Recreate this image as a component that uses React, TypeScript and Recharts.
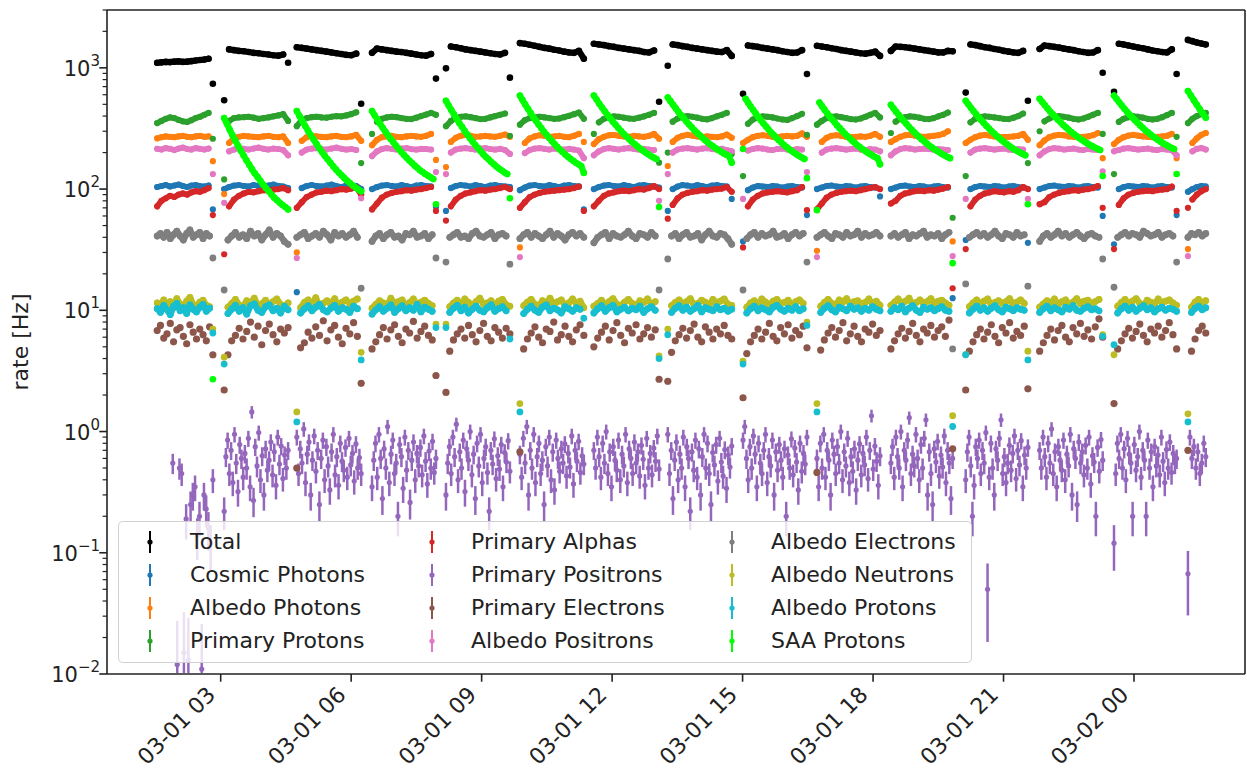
import { ErrorBar, Legend, ReferenceLine, Scatter, ScatterChart, XAxis, YAxis } from "recharts";

const FONT = '"DejaVu Sans", sans-serif';
const INK = "#222222";

// orbit segments, hours since 03-01 00:00
const SEG_START = [1.54, 3.08, 4.75, 6.48, 8.18, 9.88, 11.58, 13.28, 15.01, 16.71, 18.41, 20.13, 21.83, 23.54, 25.24];
const SEG_END = [2.82, 4.55, 6.23, 7.95, 9.65, 11.35, 13.08, 14.75, 16.48, 18.16, 19.83, 21.56, 23.28, 24.98, 25.65];

const X_MIN = 0.386;
const X_MAX = 26.552;
const Y_MIN = 0.01;
const Y_MAX = 3000;

const X_TICKS = [3, 6, 9, 12, 15, 18, 21, 24];
const X_TICK_LABELS = ["03-01 03", "03-01 06", "03-01 09", "03-01 12", "03-01 15", "03-01 18", "03-01 21", "03-02 00"];
const Y_MAJOR = [0.01, 0.1, 1, 10, 100, 1000];
const Y_MAJOR_EXP = ["\u22122", "\u22121", "0", "1", "2", "3"];

// counting time per bin, used for the positron error bars
const POSITRON_EXPOSURE_S = 50;

type Seg = (number | null)[];

const TOTAL: Seg[] = [
  [1100, 1110, 1120, 1115, 1125, 1130, 1120, 1125, 1135, 1150, 1160, 1170, 1190, 740],
  [540, 1420, 1400, 1380, 1370, 1350, 1330, 1320, 1300, 1290, 1270, 1260, 1290, 1100],
  [1480, 1460, 1440, 1420, 1400, 1380, 1360, 1340, 1320, 1300, 1280, 1270, 1310, 505],
  [1330, 1440, 1420, 1400, 1380, 1360, 1350, 1330, 1310, 1290, 1270, 1260, 1300, 815],
  [990, 1500, 1480, 1450, 1420, 1400, 1380, 1360, 1340, 1320, 1300, 1290, 1330, 830],
  [1600, 1580, 1550, 1520, 1490, 1460, 1440, 1410, 1390, 1360, 1340, 1330, 1380, 1190],
  [1580, 1560, 1540, 1510, 1490, 1460, 1440, 1420, 1400, 1380, 1350, 1340, 1390, 525],
  [1040, 1560, 1540, 1510, 1490, 1460, 1440, 1420, 1400, 1380, 1360, 1350, 1400, 1255],
  [610, 1530, 1510, 1490, 1460, 1440, 1420, 1400, 1370, 1350, 1330, 1340, 1400, 890],
  [1520, 1500, 1480, 1450, 1430, 1400, 1380, 1360, 1340, 1320, 1310, 1330, 1360, 1255],
  [1380, 1500, 1490, 1480, 1460, 1440, 1420, 1400, 1380, 1360, 1340, 1340, 1380, 1370],
  [625, 1560, 1540, 1510, 1480, 1460, 1430, 1410, 1380, 1360, 1340, 1330, 1380, 535],
  [1430, 1530, 1510, 1490, 1470, 1440, 1420, 1400, 1370, 1350, 1330, 1340, 1400, 910],
  [635, 1580, 1560, 1530, 1500, 1470, 1450, 1420, 1390, 1370, 1350, 1340, 1420, 890],
  [1700, 1660, 1620, 1590, 1560],
];

const COSMIC_PHOTONS: Seg[] = [
  [104, 106, 108, 105, 107, 109, 106, 104, 107, 108, 106, 105, 107, 68],
  [100, 104, 107, 108, 106, 105, 108, 106, 104, 107, 109, 106, 105, 102],
  [14.1, 102, 106, 108, 106, 105, 107, 109, 106, 104, 107, 108, 106, 100],
  [100, 104, 107, 108, 106, 105, 108, 106, 104, 107, 108, 106, 105, 71],
  [66, 102, 106, 108, 107, 105, 108, 106, 104, 107, 108, 106, 105, 104],
  [98, 103, 107, 108, 106, 105, 108, 106, 104, 107, 108, 106, 105, 68],
  [100, 104, 107, 108, 106, 105, 108, 106, 104, 107, 108, 106, 105, 103],
  [66, 100, 105, 108, 107, 105, 108, 106, 104, 107, 108, 106, 105, 83],
  [37, 98, 103, 106, 105, 104, 106, 105, 103, 105, 106, 104, 103, 61],
  [100, 103, 106, 107, 105, 104, 106, 105, 103, 105, 106, 104, 103, 87],
  [100, 103, 106, 107, 105, 104, 106, 105, 103, 105, 106, 104, 103, 12.6],
  [38, 100, 104, 106, 105, 104, 106, 105, 103, 105, 106, 104, 103, 36],
  [100, 103, 106, 107, 105, 104, 106, 105, 103, 105, 106, 104, 103, 60],
  [35, 100, 104, 106, 105, 104, 106, 105, 103, 105, 106, 104, 103, 61],
  [95, 100, 104, 106, 105],
];

const ALBEDO_PHOTONS: Seg[] = [
  [262, 268, 272, 270, 268, 272, 275, 270, 268, 272, 275, 270, 272, 170],
  [91, 240, 262, 270, 275, 272, 270, 268, 272, 275, 270, 268, 272, 240],
  [30, 250, 268, 275, 272, 270, 268, 272, 275, 270, 268, 272, 280, 250],
  [230, 255, 268, 272, 275, 270, 268, 272, 275, 272, 270, 275, 285, 174],
  [152, 245, 265, 275, 280, 275, 270, 272, 275, 272, 270, 275, 282, 270],
  [33, 240, 262, 272, 278, 275, 270, 272, 275, 270, 268, 275, 285, 245],
  [235, 258, 270, 278, 280, 275, 272, 270, 275, 272, 270, 275, 285, 260],
  [155, 245, 265, 275, 280, 276, 272, 270, 272, 270, 268, 272, 282, 265],
  [240, 255, 268, 275, 278, 275, 270, 268, 272, 275, 272, 275, 288, 270],
  [31, 245, 265, 275, 278, 275, 270, 268, 270, 272, 270, 275, 285, 270],
  [245, 258, 270, 278, 280, 276, 272, 270, 272, 275, 278, 285, 300, 37],
  [240, 255, 268, 276, 280, 276, 272, 270, 268, 270, 272, 275, 285, 255],
  [230, 252, 268, 276, 280, 278, 272, 270, 268, 270, 272, 278, 290, 180],
  [235, 255, 268, 276, 280, 276, 272, 270, 268, 270, 272, 275, 285, 180],
  [32, 240, 262, 280, 290],
];

const PRIMARY_PROTONS: Seg[] = [
  [350, 365, 380, 390, 385, 372, 362, 358, 370, 385, 395, 410, 425, 260],
  [120, 365, 385, 390, 392, 395, 388, 380, 385, 390, 398, 405, 415, 365],
  [330, 370, 385, 392, 395, 390, 388, 395, 400, 398, 405, 415, 430, 164],
  [285, 360, 380, 390, 395, 392, 385, 380, 378, 388, 400, 412, 425, 410],
  [330, 365, 385, 395, 398, 392, 385, 378, 380, 390, 400, 410, 420, 275],
  [340, 370, 385, 392, 395, 390, 385, 380, 382, 392, 402, 415, 428, 380],
  [285, 355, 380, 392, 398, 395, 388, 382, 380, 388, 398, 410, 425, 165],
  [200, 360, 382, 395, 400, 395, 388, 380, 376, 385, 398, 410, 425, 195],
  [128, 345, 375, 390, 398, 395, 390, 382, 375, 372, 385, 400, 418, 280],
  [340, 365, 385, 395, 398, 392, 385, 378, 375, 382, 395, 410, 425, 390],
  [290, 360, 382, 392, 398, 395, 388, 380, 378, 385, 398, 410, 428, 58],
  [128, 355, 380, 392, 398, 395, 390, 385, 380, 378, 388, 400, 420, 164],
  [300, 362, 382, 395, 400, 395, 388, 380, 375, 382, 395, 410, 425, 285],
  [133, 358, 380, 392, 398, 395, 388, 380, 375, 380, 392, 408, 425, 270],
  [350, 380, 400, 415, 425],
];

const PRIMARY_ALPHAS: Seg[] = [
  [72, 80, 84, 88, 86, 90, 92, 90, 94, 96, 95, 98, 102, 61],
  [29, 72, 82, 88, 92, 95, 94, 96, 98, 97, 99, 100, 102, 98],
  [70, 78, 86, 90, 94, 95, 97, 96, 98, 100, 99, 101, 104, 90],
  [68, 76, 85, 90, 93, 95, 96, 98, 97, 99, 100, 102, 104, 66],
  [55, 72, 82, 88, 92, 94, 96, 98, 97, 99, 100, 102, 104, 100],
  [70, 78, 86, 90, 93, 95, 96, 97, 98, 99, 100, 102, 105, 66],
  [72, 80, 88, 92, 94, 96, 97, 96, 98, 100, 99, 102, 106, 100],
  [57, 74, 84, 90, 93, 95, 96, 98, 97, 99, 100, 101, 104, 95],
  [33, 72, 82, 88, 92, 94, 95, 96, 95, 94, 96, 98, 104, 67],
  [68, 76, 85, 90, 93, 95, 96, 97, 96, 98, 100, 102, 104, 100],
  [76, 80, 88, 92, 94, 96, 97, 96, 98, 97, 99, 101, 104, 15.2],
  [32, 72, 82, 88, 92, 94, 96, 95, 94, 96, 95, 98, 104, 100],
  [75, 78, 86, 90, 93, 95, 96, 98, 97, 99, 100, 102, 106, 70],
  [32, 74, 84, 90, 93, 95, 96, 97, 96, 98, 99, 100, 105, 66],
  [70, 82, 90, 96, 100],
];

const PRIMARY_POSITRONS: Seg[] = [
  [null, null, null, null, null, null, null, 0.55, null, 0.012, 0.5, 0.45, 0.015, 0.19, 0.013, 0.25, 0.3, 0.35, 0.14, 0.2, 0.011, 0.3, 0.23, 0.16, 0.12, 0.4],
  [0.22, 0.62, 0.85, 0.45, 0.7, 0.38, 0.95, 0.55, 0.32, 0.78, 0.6, 0.42, 0.66, 0.5, 0.88, 0.35, 1.45, 0.27, 0.75, 0.52, 0.98, 0.4, 0.63, 0.3, 0.72, 0.48, 0.58, 0.82, 0.44, 0.68, 0.36, 0.9, 0.54, 0.76, 0.41, 0.64, 0.5, 0.7],
  [0.9, 0.45, 0.72, 0.55, 1.05, 0.38, 0.65, 0.82, 0.3, 0.58, 0.92, 0.47, 0.7, 0.25, 0.6, 0.85, 0.4, 0.75, 0.52, 0.33, 0.68, 0.95, 0.44, 0.62, 0.36, 0.8, 0.57, 0.48, 0.74, 0.42, 0.88, 0.53, 0.66, 0.39, 0.79, 0.5, 0.61, 0.45],
  [0.35, 0.58, 0.8, 0.42, 0.95, 0.6, 0.28, 0.72, 0.5, 1.1, 0.38, 0.65, 0.85, 0.45, 0.55, 0.2, 0.78, 0.62, 0.34, 0.9, 0.48, 0.7, 0.26, 0.58, 0.82, 0.4, 0.66, 0.52, 0.74, 0.44, 0.92, 0.57, 0.37, 0.69, 0.5, 0.83, 0.46, 0.6],
  [0.3, 0.55, 0.75, 0.45, 0.9, 0.62, 1.15, 0.4, 0.68, 0.5, 0.85, 0.32, 0.72, 0.58, 1.0, 0.44, 0.65, 0.28, 0.8, 0.52, 0.95, 0.38, 0.6, 0.75, 0.46, 0.22, 0.7, 0.54, 0.87, 0.41, 0.63, 0.49, 0.78, 0.35, 0.67, 0.56, 0.84, 0.47],
  [0.65, 0.42, 0.88, 0.55, 1.1, 0.3, 0.7, 0.5, 0.95, 0.38, 0.62, 0.8, 0.45, 0.58, 0.25, 0.75, 0.52, 0.9, 0.4, 0.68, 0.33, 0.85, 0.6, 0.47, 0.72, 0.55, 0.79, 0.43, 0.66, 0.51, 0.92, 0.37, 0.7, 0.57, 0.83, 0.46, 0.63, 0.54],
  [0.7, 0.5, 0.9, 0.62, 0.42, 0.8, 0.55, 1.0, 0.45, 0.68, 0.35, 0.75, 0.58, 0.48, 0.85, 0.4, 0.65, 0.52, 0.95, 0.38, 0.72, 0.6, 0.45, 0.82, 0.55, 0.68, 0.43, 0.77, 0.59, 0.36, 0.88, 0.5, 0.66, 0.44, 0.73, 0.57, 0.92, 0.49],
  [0.95, 0.45, 0.7, 0.28, 0.58, 0.82, 0.4, 0.65, 0.5, 0.9, 0.35, 0.75, 0.6, 0.22, 0.68, 0.48, 0.85, 0.42, 0.72, 0.3, 0.62, 0.95, 0.5, 0.8, 0.45, 0.25, 0.67, 0.53, 0.78, 0.39, 0.88, 0.56, 0.43, 0.71, 0.34, 0.64, 0.51, 0.76],
  [0.85, 1.1, 0.6, 0.4, 0.75, 0.5, 0.92, 0.65, 0.35, 0.8, 0.55, 0.45, 0.7, 0.95, 0.38, 0.62, 0.52, 0.85, 0.3, 0.68, 0.48, 0.78, 0.58, 0.42, 0.72, 0.2, 0.64, 0.5, 0.87, 0.44, 0.73, 0.56, 0.33, 0.8, 0.47, 0.66, 0.54, 0.9],
  [0.6, 0.35, 0.8, 0.5, 0.95, 0.42, 0.7, 0.58, 0.3, 0.85, 0.65, 0.45, 0.75, 0.55, 1.0, 0.4, 0.68, 0.52, 0.88, 0.38, 0.62, 0.47, 0.72, 0.33, 0.58, 0.79, 0.44, 0.66, 0.53, 0.9, 0.41, 0.7, 1.35, 0.49, 0.76, 0.57, 0.36, 0.63],
  [0.55, 0.75, 0.42, 0.9, 0.62, 0.5, 1.0, 0.35, 0.7, 0.58, 0.85, 1.3, 0.45, 0.65, 0.52, 0.95, 0.6, 0.4, 0.78, 0.5, 0.88, 1.25, 0.3, 0.68, 0.45, 0.25, 0.72, 0.56, 0.83, 0.43, 0.64, 0.51, 0.92, 0.38, 0.7, 0.55, 0.28, 0.6],
  [0.4, 0.68, 0.9, 0.52, 0.2, 0.36, 0.75, 0.6, 0.85, 0.45, 0.7, 0.55, 0.98, 0.05, 0.42, 0.8, 0.5, 0.3, 0.72, 0.58, 0.88, 1.25, 0.45, 0.62, 0.38, 0.55, 0.77, 0.48, 0.66, 0.92, 0.41, 0.7, 0.53, 0.84, 0.35, 0.64, 0.5, 0.74],
  [0.7, 0.5, 0.9, 0.62, 0.42, 0.8, 0.55, 1.05, 0.45, 0.68, 0.35, 0.75, 0.58, 0.48, 0.85, 0.4, 0.65, 0.52, 0.95, 0.3, 0.72, 0.6, 0.25, 0.82, 0.55, 0.68, 0.44, 0.77, 0.5, 0.9, 0.37, 0.63, 0.56, 0.2, 0.74, 0.47, 0.86, 0.58],
  [0.12, 0.45, 0.8, 0.6, 0.95, 0.5, 0.72, 0.4, 0.88, 0.65, 0.55, 0.2, 0.78, 0.48, 0.62, 1.0, 0.42, 0.7, 0.58, 0.2, 0.85, 0.5, 0.68, 0.35, 0.75, 0.52, 0.64, 0.44, 0.9, 0.57, 0.38, 0.71, 0.5, 0.82, 0.46, 0.66, 0.55, 0.6],
  [0.067, 0.9, 0.6, 0.75, 0.5, 0.68, 0.45, 0.55, 0.8, 0.62],
];

const PRIMARY_ELECTRONS: Seg[] = [
  [6.8, 7.5, 5.9, 6.4, 7.8, 5.5, 6.9, 7.2, 6.1, 5.3, 7.6, 6.6, 5.8, 7.0, 6.3, 5.6, 7.3, 4.3],
  [2.2, 4.3, 5.6, 6.2, 7.1, 5.8, 6.7, 8.0, 6.0, 7.4, 5.2, 6.8, 7.7, 6.3, 5.5, 7.0, 6.5, 7.2],
  [0.5, 4.9, 5.4, 6.6, 5.9, 7.3, 6.2, 8.2, 5.6, 6.9, 7.5, 6.0, 5.3, 7.1, 6.4, 7.9, 6.1, 2.5],
  [4.8, 5.5, 6.3, 7.2, 5.8, 6.9, 7.6, 6.1, 5.4, 7.0, 6.5, 8.1, 5.9, 6.7, 7.4, 6.2, 5.7, 2.9],
  [2.1, 4.6, 5.7, 6.4, 7.0, 5.9, 7.5, 6.3, 5.5, 6.8, 7.8, 6.1, 5.6, 7.2, 6.6, 5.9, 7.1, 6.4],
  [0.68, 4.8, 5.8, 6.5, 7.3, 6.0, 5.4, 7.0, 6.7, 8.0, 5.7, 6.3, 7.4, 6.1, 5.5, 6.9, 7.6, 6.2],
  [5.0, 5.9, 6.6, 7.4, 5.7, 6.8, 7.9, 6.2, 5.4, 7.1, 6.5, 7.6, 5.8, 6.4, 7.2, 6.0, 6.9, 2.7],
  [2.6, 4.5, 5.6, 6.3, 7.1, 5.9, 6.8, 7.7, 6.0, 5.5, 7.3, 6.6, 5.8, 7.0, 6.4, 7.5, 6.2, 5.8],
  [1.9, 4.4, 5.5, 6.2, 7.0, 5.8, 6.6, 7.8, 6.1, 5.6, 7.2, 6.4, 7.6, 5.9, 6.8, 6.3, 7.4, 4.9],
  [0.46, 4.7, 5.7, 6.5, 7.2, 6.0, 6.8, 7.9, 5.6, 6.4, 7.4, 6.1, 5.5, 7.0, 6.6, 7.7, 6.2, 6.8],
  [4.8, 5.6, 6.4, 7.1, 5.9, 6.7, 7.8, 6.2, 5.5, 7.0, 6.5, 7.5, 6.0, 6.8, 7.3, 6.1, 8.3, 0.72],
  [2.2, 4.6, 5.5, 6.3, 7.0, 5.8, 6.6, 7.6, 6.1, 5.4, 7.2, 6.5, 7.9, 5.9, 6.7, 6.2, 7.4, 2.25],
  [4.6, 5.4, 6.2, 7.0, 5.7, 6.8, 7.5, 6.0, 5.5, 7.2, 6.4, 7.8, 6.1, 6.9, 5.8, 7.3, 8.5, 6.0],
  [1.7, 4.8, 5.6, 6.4, 7.1, 5.9, 6.7, 7.7, 6.2, 5.5, 7.0, 6.5, 7.4, 6.0, 6.8, 7.9, 6.3, 4.8],
  [0.7, 4.6, 5.8, 6.8, 7.4, 6.5],
];

const ALBEDO_POSITRONS: Seg[] = [
  [215, 212, 218, 215, 210, 216, 220, 214, 212, 218, 215, 212, 216, 133],
  [77, 205, 212, 218, 215, 212, 216, 220, 215, 212, 216, 214, 210, 190],
  [27, 200, 212, 216, 218, 214, 212, 216, 220, 215, 212, 214, 210, 84],
  [187, 205, 214, 218, 215, 212, 216, 218, 214, 212, 215, 214, 212, 138],
  [133, 200, 212, 216, 218, 215, 212, 216, 218, 214, 212, 215, 210, 195],
  [27.5, 198, 210, 216, 218, 215, 212, 216, 214, 212, 215, 212, 208, 180],
  [190, 205, 214, 218, 215, 212, 216, 218, 214, 212, 215, 212, 210, 80],
  [133, 200, 212, 216, 218, 215, 212, 216, 218, 214, 212, 215, 210, 205],
  [83, 208, 214, 218, 216, 212, 210, 214, 216, 212, 210, 214, 212, 138],
  [27.5, 200, 212, 216, 218, 215, 212, 214, 216, 212, 210, 214, 212, 205],
  [190, 205, 214, 218, 216, 212, 214, 216, 214, 212, 214, 212, 210, 28],
  [83, 200, 212, 216, 218, 215, 212, 214, 216, 212, 210, 214, 212, 83],
  [190, 205, 214, 218, 216, 212, 214, 216, 212, 210, 214, 212, 210, 140],
  [205, 210, 216, 218, 215, 212, 214, 216, 212, 210, 214, 212, 210, 190],
  [28, 205, 215, 218, 212],
];

const ALBEDO_ELECTRONS: Seg[] = [
  [41, 43, 40, 44, 39, 42, 45, 41, 38, 43, 46, 40, 42, 44, 39, 43, 41, 27],
  [14.7, 38, 41, 44, 40, 42, 39, 45, 41, 43, 38, 42, 46, 40, 43, 41, 37, 35],
  [40, 42, 44, 39, 41, 43, 40, 45, 42, 38, 44, 41, 43, 40, 42, 45, 40, 15.2],
  [37, 41, 43, 39, 42, 44, 40, 41, 38, 43, 42, 45, 40, 41, 43, 39, 42, 27],
  [25, 40, 42, 44, 40, 41, 39, 43, 45, 41, 40, 42, 44, 39, 42, 43, 41, 24],
  [39, 42, 44, 40, 43, 41, 39, 42, 45, 40, 43, 41, 38, 42, 44, 41, 43, 40],
  [36, 40, 42, 44, 39, 43, 41, 40, 42, 45, 41, 39, 43, 42, 40, 44, 41, 14.7],
  [26.5, 41, 43, 39, 42, 44, 40, 41, 43, 38, 42, 45, 41, 40, 43, 42, 39, 35],
  [14.7, 39, 42, 44, 40, 43, 41, 42, 45, 40, 41, 43, 39, 42, 44, 41, 43, 25],
  [40, 42, 44, 41, 39, 43, 42, 40, 44, 41, 42, 45, 40, 43, 41, 42, 44, 41],
  [41, 43, 40, 42, 44, 39, 42, 41, 43, 45, 40, 42, 41, 43, 39, 42, 44, 4.8],
  [16.5, 40, 42, 44, 41, 43, 40, 42, 45, 41, 39, 43, 42, 40, 44, 41, 42, 15.8],
  [37, 41, 43, 40, 42, 45, 41, 43, 40, 42, 44, 41, 39, 42, 43, 41, 40, 26.5],
  [15.5, 40, 42, 44, 41, 43, 42, 40, 45, 43, 41, 42, 44, 40, 42, 43, 41, 25],
  [40, 43, 42, 44, 41, 43],
];

const ALBEDO_NEUTRONS: Seg[] = [
  [11.5, 10.8, 12.2, 11.0, 11.8, 10.5, 12.5, 11.2, 10.9, 11.9, 12.8, 11.1, 10.6, 11.7, 12.1, 11.0, 10.7, 7.0],
  [4.1, 10.6, 11.4, 12.3, 11.0, 10.8, 12.0, 11.5, 12.6, 10.9, 11.3, 12.1, 11.0, 11.8, 12.4, 11.2, 10.8, 11.5],
  [1.45, 10.5, 11.6, 12.2, 11.1, 12.7, 10.9, 11.4, 12.0, 11.2, 12.5, 10.8, 11.7, 12.2, 11.3, 11.9, 12.4, 4.5],
  [10.4, 11.2, 12.0, 11.5, 10.9, 12.6, 11.3, 11.8, 12.2, 10.8, 11.6, 12.4, 11.0, 11.7, 12.1, 11.4, 10.9, 7.7],
  [7.7, 10.7, 11.5, 12.1, 11.0, 12.4, 11.6, 10.9, 11.8, 12.6, 11.2, 11.5, 12.0, 10.8, 11.9, 12.3, 11.1, 10.8],
  [1.7, 10.9, 11.7, 12.3, 11.2, 10.8, 12.0, 11.4, 12.6, 11.1, 11.8, 12.2, 10.9, 11.5, 12.4, 11.3, 11.9, 10.5],
  [10.8, 11.4, 12.1, 11.0, 11.8, 12.5, 11.2, 10.9, 11.7, 12.3, 11.4, 11.0, 12.0, 11.6, 12.4, 11.1, 11.8, 4.2],
  [7.0, 10.9, 11.6, 12.2, 11.3, 11.8, 12.5, 11.0, 11.4, 12.1, 11.7, 10.9, 12.3, 11.5, 11.9, 12.4, 11.2, 11.0],
  [3.8, 10.6, 11.5, 12.0, 11.2, 12.4, 11.7, 11.0, 11.9, 12.3, 11.3, 11.6, 12.1, 10.9, 11.8, 12.2, 11.4, 8.0],
  [1.7, 10.8, 11.6, 12.3, 11.4, 11.0, 12.2, 11.7, 12.5, 11.1, 11.8, 12.0, 11.3, 11.6, 12.4, 11.2, 11.9, 11.0],
  [11.0, 11.7, 12.4, 11.3, 11.9, 12.6, 11.1, 11.6, 12.2, 11.4, 11.8, 12.5, 11.2, 11.9, 12.1, 11.5, 11.0, 1.35],
  [4.3, 10.7, 11.5, 12.2, 11.3, 11.9, 12.4, 11.0, 11.6, 12.0, 11.4, 11.8, 12.5, 11.1, 11.7, 12.2, 11.4, 4.6],
  [10.6, 11.3, 12.0, 11.5, 12.4, 11.1, 11.8, 12.2, 11.0, 11.7, 12.5, 11.3, 11.9, 12.1, 11.4, 11.8, 12.3, 6.3],
  [4.3, 10.8, 11.6, 12.3, 11.2, 11.9, 12.5, 11.4, 11.0, 12.1, 11.7, 11.3, 12.4, 11.6, 11.9, 12.2, 11.5, 11.0],
  [1.4, 10.6, 11.7, 12.3, 11.5, 12.0],
];

const ALBEDO_PROTONS: Seg[] = [
  [10.3, 9.6, 11.0, 10.1, 9.2, 10.8, 11.4, 9.9, 10.5, 9.4, 11.1, 10.2, 9.7, 10.6, 11.2, 9.8, 10.4, 6.5],
  [3.6, 9.4, 10.2, 11.0, 9.8, 10.5, 9.3, 10.9, 11.3, 10.0, 9.6, 10.7, 11.1, 9.9, 10.4, 9.5, 10.8, 10.1],
  [1.2, 9.5, 10.3, 10.9, 9.9, 10.6, 11.2, 10.1, 9.7, 10.4, 11.0, 9.8, 10.5, 10.2, 9.6, 10.8, 10.3, 3.9],
  [9.3, 10.1, 10.7, 9.8, 10.4, 11.1, 9.6, 10.3, 10.9, 9.9, 10.5, 10.0, 11.2, 9.7, 10.6, 10.2, 9.8, 7.2],
  [7.2, 9.6, 10.4, 11.0, 9.9, 10.6, 9.5, 10.2, 10.8, 10.0, 9.7, 10.5, 11.1, 9.8, 10.3, 10.7, 9.9, 5.8],
  [1.45, 9.4, 10.2, 10.8, 10.0, 9.6, 10.6, 11.1, 9.9, 10.4, 10.1, 9.5, 10.7, 10.3, 9.8, 10.5, 10.2, 8.6],
  [9.5, 10.3, 10.9, 9.8, 10.5, 11.0, 9.7, 10.2, 10.6, 9.9, 10.4, 10.1, 10.8, 9.6, 10.3, 10.7, 10.0, 4.0],
  [6.3, 9.6, 10.4, 10.9, 10.0, 10.6, 9.8, 10.3, 11.0, 9.7, 10.5, 10.2, 9.9, 10.7, 10.1, 10.4, 9.8, 10.2],
  [3.6, 9.5, 10.3, 10.8, 9.9, 10.5, 10.1, 9.7, 10.6, 11.0, 10.2, 9.8, 10.4, 10.0, 10.7, 9.9, 10.3, 7.5],
  [1.45, 9.6, 10.4, 10.9, 10.1, 9.7, 10.6, 10.3, 9.9, 10.8, 10.2, 10.5, 9.8, 10.4, 10.0, 10.7, 10.2, 9.9],
  [9.8, 10.5, 10.1, 10.8, 9.7, 10.4, 10.9, 10.0, 9.6, 10.6, 10.2, 10.5, 9.9, 10.3, 10.7, 10.0, 9.8, 1.1],
  [4.3, 9.5, 10.2, 10.8, 10.0, 10.5, 9.8, 10.4, 10.9, 10.1, 9.7, 10.6, 10.3, 9.9, 10.5, 10.2, 10.0, 3.9],
  [9.6, 10.3, 10.8, 9.9, 10.5, 10.1, 9.7, 10.6, 10.2, 10.9, 10.0, 9.8, 10.4, 10.7, 10.1, 10.3, 9.9, 6.1],
  [5.2, 9.5, 10.3, 10.8, 10.0, 10.6, 9.8, 10.4, 10.9, 10.1, 10.5, 9.7, 10.3, 10.6, 10.0, 10.4, 10.2, 9.8],
  [1.2, 9.6, 10.4, 10.8, 10.1, 10.5],
];

const SAA_PROTONS: Seg[] = [
  [null, null, null, null, null, null, null, null, null, null, null, null, null, 2.7],
  [385, 345, 309, 278, 251, 228, 207, 189, 173, 159, 146, 135, 126, 117, 109, 102, 96, 90, 85, 81, 77, 74, 71, 68],
  [440, 399, 363, 331, 303, 278, 256, 236, 218, 202, 188, 176, 165, 154, 145, 137, 130, 123, 117, 112, 107, 103, 99, 96],
  [440, 405, 374, 346, 320, 298, 278, 259, 243, 228, 214, 202, 191, 181, 172, 164, 156, 150, 143, 138, 133, 129, 125, 121, 75],
  [535, 489, 448, 413, 380, 351, 326, 302, 282, 263, 246, 231, 218, 205, 194, 184, 176, 167, 160, 153, 147, 142, 137, 133, 84],
  [590, 542, 498, 460, 425, 394, 366, 341, 319, 298, 280, 264, 249, 235, 223, 212, 202, 193, 185, 178, 171, 165, 160, 155, 136],
  [590, 547, 506, 471, 439, 410, 384, 360, 339, 319, 301, 285, 271, 258, 246, 235, 225, 216, 208, 200, 194, 187, 182, 177, 71],
  [570, 531, 495, 463, 433, 407, 383, 361, 341, 323, 306, 291, 278, 265, 253, 243, 233, 225, 217, 210, 203, 197, 192, 187, 165],
  [214, 555, 516, 480, 448, 419, 393, 369, 347, 328, 310, 293, 279, 265, 253, 242, 231, 222, 214, 206, 199, 193, 187, 182, 177, 123],
  [67, 517, 483, 452, 424, 399, 376, 355, 335, 318, 302, 287, 274, 262, 250, 240, 230, 222, 214, 207, 200, 195, 189, 184, 180, 160],
  [495, 464, 435, 410, 386, 365, 345, 327, 310, 295, 281, 269, 257, 247, 237, 228, 220, 213, 206, 200, 194, 189, 184, 180, 24.5],
  [535, 501, 469, 441, 415, 391, 370, 350, 332, 316, 300, 287, 274, 262, 252, 242, 234, 225, 218, 211, 205, 200, 195, 190, 75],
  [555, 522, 491, 463, 437, 414, 392, 373, 355, 338, 323, 309, 296, 284, 274, 264, 255, 247, 239, 232, 226, 220, 215, 210, 128],
  [590, 553, 519, 488, 460, 434, 411, 389, 370, 352, 335, 320, 306, 294, 282, 271, 262, 253, 245, 237, 231, 224, 219, 214, 133],
  [645, 590, 540, 495, 455, 420, 388],
];

interface Series {
  name: string;
  color: string;
  values: Seg[];
  r: number;
  dense?: boolean; // densely sampled in the original: the dots merge into a band
  errors?: boolean;
}

const SERIES: Series[] = [
  { name: "Total", color: "#000000", values: TOTAL, r: 3.3, dense: true },
  { name: "Cosmic Photons", color: "#1f77b4", values: COSMIC_PHOTONS, r: 3.1, dense: true },
  { name: "Albedo Photons", color: "#ff7f0e", values: ALBEDO_PHOTONS, r: 3.1, dense: true },
  { name: "Primary Protons", color: "#2ca02c", values: PRIMARY_PROTONS, r: 3.1, dense: true },
  { name: "Primary Alphas", color: "#d62728", values: PRIMARY_ALPHAS, r: 3.1, dense: true },
  { name: "Primary Positrons", color: "#9467bd", values: PRIMARY_POSITRONS, r: 2.6, errors: true },
  { name: "Primary Electrons", color: "#8c564b", values: PRIMARY_ELECTRONS, r: 3.6 },
  { name: "Albedo Positrons", color: "#e377c2", values: ALBEDO_POSITRONS, r: 3.1, dense: true },
  { name: "Albedo Electrons", color: "#7f7f7f", values: ALBEDO_ELECTRONS, r: 3.4, dense: true },
  { name: "Albedo Neutrons", color: "#bcbd22", values: ALBEDO_NEUTRONS, r: 3.4, dense: true },
  { name: "Albedo Protons", color: "#17becf", values: ALBEDO_PROTONS, r: 3.4, dense: true },
  { name: "SAA Protons", color: "#00ff00", values: SAA_PROTONS, r: 3.3, dense: true },
];

interface Point {
  t: number;
  v: number;
  e?: [number, number];
}

function segmentPoints(seg: Seg, s: number, withErrors: boolean): Point[] {
  const pts: Point[] = [];
  const n = seg.length;
  seg.forEach((v, i) => {
    if (v == null) return;
    const t = SEG_START[s] + ((SEG_END[s] - SEG_START[s]) * i) / Math.max(n - 1, 1);
    const p: Point = { t, v };
    if (withErrors) {
      const rel = 1 / Math.sqrt(v * POSITRON_EXPOSURE_S);
      // keep the lower whisker inside the axes (the plot area clips it in the original)
      const low = Math.max(v * (1 - rel), Y_MIN * 1.02);
      p.e = [Math.max(v - low, 0), v * rel];
    }
    pts.push(p);
  });
  return pts;
}

function buildPoints(values: Seg[], withErrors: boolean): Point[] {
  return values.flatMap((seg, s) => segmentPoints(seg, s, withErrors));
}

// the continuous part of each orbit, without the isolated edge points
function bandRuns(values: Seg[]): Point[][] {
  const jump = (a: Point, b: Point) => Math.abs(Math.log10(a.v / b.v)) > 0.065;
  return values
    .map((seg, s) => {
      let pts = segmentPoints(seg, s, false);
      if (pts.length > 2 && jump(pts[0], pts[1])) pts = pts.slice(1);
      if (pts.length > 2 && jump(pts[pts.length - 1], pts[pts.length - 2])) pts = pts.slice(0, -1);
      return pts;
    })
    .filter((pts) => pts.length > 1);
}

const Y_TICKS: number[] = [];
Y_MAJOR.forEach((d) => {
  Y_TICKS.push(d);
  for (let m = 2; m <= 9; m++) {
    if (m * d <= Y_MAX) Y_TICKS.push(m * d);
  }
});

function YTick(props: any) {
  const { x, y, payload } = props;
  const idx = Y_MAJOR.indexOf(payload.value);
  const major = idx >= 0;
  return (
    <g>
      <line x1={x - (major ? 7.7 : 4.4)} x2={x} y1={y} y2={y} stroke={INK} strokeWidth={major ? 1.6 : 1.2} />
      {major && (
        <text x={x - 7} y={y + 8} textAnchor="end" fontSize={21} fill={INK} fontFamily={FONT}>
          10
          <tspan dy={-10} fontSize={15}>
            {Y_MAJOR_EXP[idx]}
          </tspan>
        </text>
      )}
    </g>
  );
}

function XTick(props: any) {
  const { x, y, payload } = props;
  const idx = X_TICKS.indexOf(payload.value);
  return (
    <g transform={`translate(${x},${y})`}>
      <line x1={0} x2={0} y1={0} y2={7.7} stroke={INK} strokeWidth={1.6} />
      <text transform="translate(-4,22) rotate(-45)" textAnchor="end" fontSize={22} fill={INK} fontFamily={FONT}>
        {X_TICK_LABELS[idx]}
      </text>
    </g>
  );
}

function LegendBox() {
  const colX = [31, 313, 613];
  const textX = [71, 352, 652];
  return (
    <div
      style={{
        position: "relative",
        width: 854,
        height: 142,
        boxSizing: "border-box",
        border: "1.5px solid rgba(204,204,204,0.9)",
        borderRadius: 5,
        background: "rgba(255,255,255,0.8)",
        fontFamily: FONT,
        fontSize: 22,
        color: INK,
      }}
    >
      {SERIES.map((s, i) => {
        const col = Math.floor(i / 4);
        const row = i % 4;
        const cy = 20 + row * 33;
        return (
          <div key={s.name}>
            <svg width={12} height={26} style={{ position: "absolute", left: colX[col] - 6, top: cy - 13 }}>
              <line x1={6} x2={6} y1={2} y2={24} stroke={s.color} strokeWidth={2} />
              <circle cx={6} cy={13} r={2.6} fill={s.color} />
            </svg>
            <span
              style={{ position: "absolute", left: textX[col], top: cy - 14, lineHeight: "28px", whiteSpace: "nowrap" }}
            >
              {s.name}
            </span>
          </div>
        );
      })}
    </div>
  );
}

const noDot = () => <g />;

export default function App() {
  return (
    <div style={{ position: "absolute", left: 0, top: 0, width: 1247, height: 770, background: "#fff" }}>
      <ScatterChart
        width={1247}
        height={770}
        margin={{ top: 10, right: 2, bottom: 0, left: 0 }}
        style={{ fontFamily: FONT }}
      >
        <XAxis
          type="number"
          dataKey="t"
          domain={[X_MIN, X_MAX]}
          ticks={X_TICKS}
          interval={0}
          allowDataOverflow
          height={96}
          tickSize={0}
          tickMargin={0}
          tickLine={false}
          axisLine={{ stroke: INK, strokeWidth: 1.6 }}
          tick={<XTick />}
        />
        <YAxis
          type="number"
          dataKey="v"
          scale="log"
          domain={[Y_MIN, Y_MAX]}
          ticks={Y_TICKS}
          interval={0}
          allowDataOverflow
          width={107}
          tickSize={0}
          tickMargin={0}
          tickLine={false}
          axisLine={{ stroke: INK, strokeWidth: 1.6 }}
          tick={<YTick />}
          label={{
            content: () => (
              <text
                x={28}
                y={342}
                transform="rotate(-90 28 342)"
                textAnchor="middle"
                fontSize={22}
                fill={INK}
                fontFamily={FONT}
              >
                rate [Hz]
              </text>
            ),
          }}
        />
        {SERIES.flatMap((s) => {
          const items = [];
          if (s.dense) {
            bandRuns(s.values).forEach((run, k) => {
              items.push(
                <Scatter
                  key={`${s.name}-band-${k}`}
                  data={run}
                  legendType="none"
                  isAnimationActive={false}
                  line={{ stroke: s.color, strokeWidth: s.r * 2 - 0.4, strokeLinecap: "round", strokeLinejoin: "round" }}
                  lineType="joint"
                  shape={noDot}
                />
              );
            });
          }
          items.push(
            <Scatter
              key={s.name}
              name={s.name}
              data={buildPoints(s.values, !!s.errors)}
              fill={s.color}
              isAnimationActive={false}
              shape={(p: any) => <circle cx={p.cx} cy={p.cy} r={s.r} fill={s.color} />}
            >
              {s.errors && (
                <ErrorBar
                  dataKey="e"
                  direction="y"
                  width={0}
                  stroke={s.color}
                  strokeWidth={2.5}
                  isAnimationActive={false}
                />
              )}
            </Scatter>
          );
          return items;
        })}
        <ReferenceLine y={Y_MAX} stroke={INK} strokeWidth={1.6} />
        <ReferenceLine x={X_MAX} stroke={INK} strokeWidth={1.6} />
        <Legend
          layout="horizontal"
          verticalAlign="middle"
          align="center"
          wrapperStyle={{ left: 118, top: 521, width: 854, height: 142 }}
          content={() => <LegendBox />}
        />
      </ScatterChart>
    </div>
  );
}
